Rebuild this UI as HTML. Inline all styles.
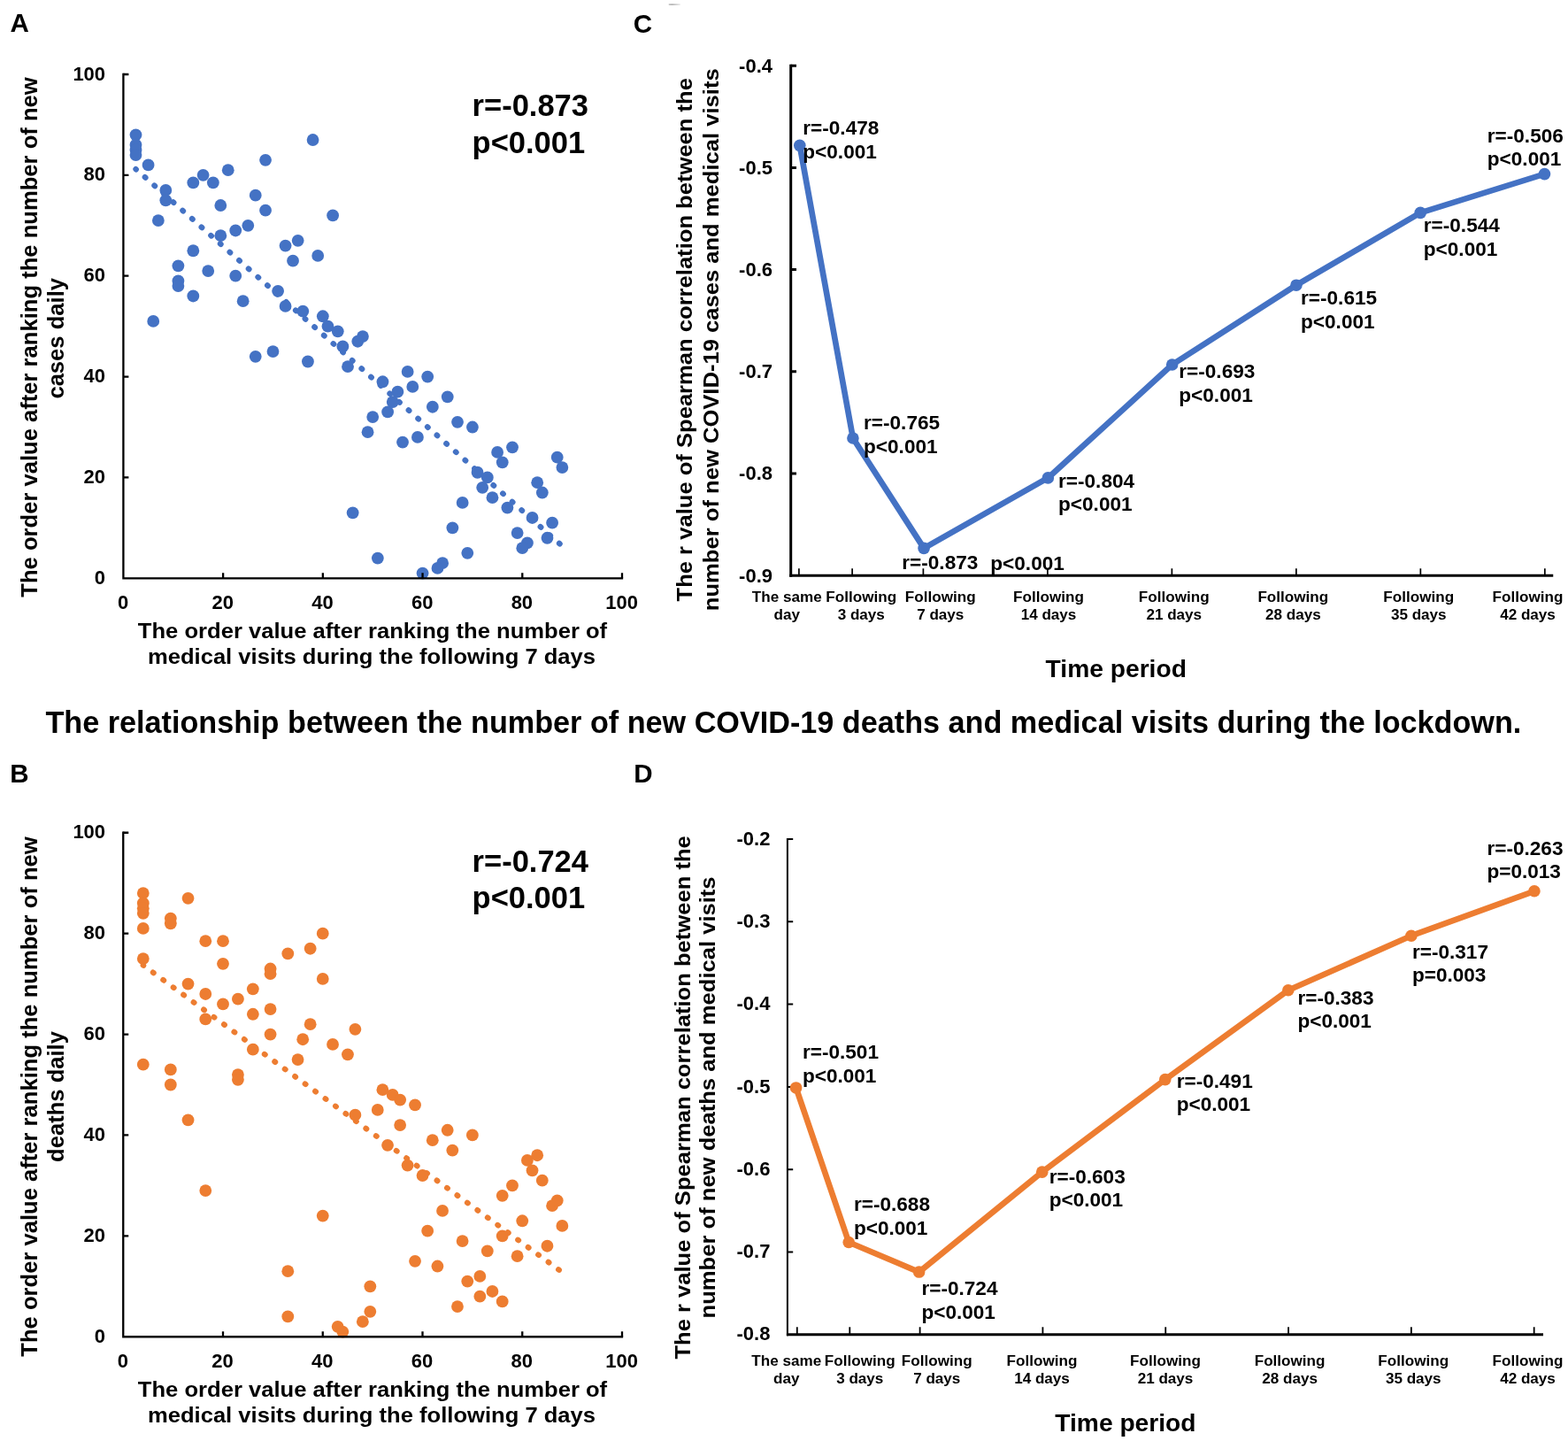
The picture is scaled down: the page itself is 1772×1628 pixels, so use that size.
<!DOCTYPE html>
<html lang="en"><head><meta charset="utf-8"><title>Relationship between new COVID-19 cases/deaths and medical visits during the lockdown</title>
<style>html,body{margin:0;padding:0;background:#fff}body{width:1772px;height:1628px;overflow:hidden}svg{display:block}svg text{font-family:'Liberation Sans', Arial, Helvetica, sans-serif;font-weight:bold;fill:#000}</style>
</head><body>
<svg width="1772" height="1628" viewBox="0 0 1772 1628">
<defs><filter id="soft" x="0" y="0" width="1772" height="1628" filterUnits="userSpaceOnUse" color-interpolation-filters="sRGB"><feGaussianBlur stdDeviation="0.5"/></filter></defs>
<g filter="url(#soft)">
<rect width="1772" height="1628" fill="#fff"/>
<defs><linearGradient id="speck" x1="0" y1="0" x2="1" y2="0"><stop offset="0" stop-color="#c4c4c4"/><stop offset="0.3" stop-color="#b4b4b4"/><stop offset="1" stop-color="#ececec"/></linearGradient></defs>
<rect x="755.5" y="4.2" width="13.5" height="1.7" rx="0.8" fill="url(#speck)"/>
<text x="11.5" y="36.25" font-size="29.5">A</text>
<text x="11.2" y="884.25" font-size="29.5">B</text>
<text x="715.7" y="36.5" font-size="29.5">C</text>
<text x="716.3" y="883.8" font-size="29.5">D</text>
<g id="panelA">
<line x1="153.49" y1="191.03" x2="635.37" y2="616.86" stroke="#4472C4" stroke-width="6.3" stroke-linecap="round" stroke-dasharray="0.8 13.4" stroke-dashoffset="0.4"/>
<g fill="#4472C4">
<circle cx="153.49" cy="152.32" r="6.9"/>
<circle cx="153.49" cy="163.7" r="6.9"/>
<circle cx="153.49" cy="169.39" r="6.9"/>
<circle cx="153.49" cy="175.09" r="6.9"/>
<circle cx="167.58" cy="186.47" r="6.9"/>
<circle cx="187.31" cy="214.94" r="6.9"/>
<circle cx="187.31" cy="226.32" r="6.9"/>
<circle cx="178.85" cy="249.1" r="6.9"/>
<circle cx="218.3" cy="206.4" r="6.9"/>
<circle cx="229.58" cy="197.86" r="6.9"/>
<circle cx="240.85" cy="206.4" r="6.9"/>
<circle cx="257.76" cy="192.17" r="6.9"/>
<circle cx="300.03" cy="180.78" r="6.9"/>
<circle cx="353.57" cy="158.01" r="6.9"/>
<circle cx="288.75" cy="220.63" r="6.9"/>
<circle cx="249.3" cy="232.02" r="6.9"/>
<circle cx="300.03" cy="237.71" r="6.9"/>
<circle cx="376.11" cy="243.4" r="6.9"/>
<circle cx="280.3" cy="254.79" r="6.9"/>
<circle cx="266.21" cy="260.48" r="6.9"/>
<circle cx="249.3" cy="266.18" r="6.9"/>
<circle cx="218.3" cy="283.25" r="6.9"/>
<circle cx="336.66" cy="271.87" r="6.9"/>
<circle cx="322.57" cy="277.56" r="6.9"/>
<circle cx="359.2" cy="288.95" r="6.9"/>
<circle cx="331.02" cy="294.64" r="6.9"/>
<circle cx="201.4" cy="300.33" r="6.9"/>
<circle cx="235.21" cy="306.03" r="6.9"/>
<circle cx="266.21" cy="311.72" r="6.9"/>
<circle cx="201.4" cy="317.41" r="6.9"/>
<circle cx="201.4" cy="323.11" r="6.9"/>
<circle cx="218.3" cy="334.49" r="6.9"/>
<circle cx="274.66" cy="340.19" r="6.9"/>
<circle cx="314.12" cy="328.8" r="6.9"/>
<circle cx="322.57" cy="345.88" r="6.9"/>
<circle cx="342.3" cy="351.57" r="6.9"/>
<circle cx="173.22" cy="362.96" r="6.9"/>
<circle cx="364.84" cy="357.26" r="6.9"/>
<circle cx="370.48" cy="368.65" r="6.9"/>
<circle cx="381.75" cy="374.34" r="6.9"/>
<circle cx="409.93" cy="380.04" r="6.9"/>
<circle cx="404.29" cy="385.73" r="6.9"/>
<circle cx="387.38" cy="391.42" r="6.9"/>
<circle cx="308.48" cy="397.11" r="6.9"/>
<circle cx="288.75" cy="402.81" r="6.9"/>
<circle cx="347.93" cy="408.5" r="6.9"/>
<circle cx="393.02" cy="414.19" r="6.9"/>
<circle cx="460.65" cy="419.89" r="6.9"/>
<circle cx="483.2" cy="425.58" r="6.9"/>
<circle cx="432.47" cy="431.27" r="6.9"/>
<circle cx="466.29" cy="436.97" r="6.9"/>
<circle cx="449.38" cy="442.66" r="6.9"/>
<circle cx="505.74" cy="448.35" r="6.9"/>
<circle cx="443.74" cy="454.04" r="6.9"/>
<circle cx="488.83" cy="459.74" r="6.9"/>
<circle cx="438.11" cy="465.43" r="6.9"/>
<circle cx="421.2" cy="471.12" r="6.9"/>
<circle cx="517.01" cy="476.82" r="6.9"/>
<circle cx="533.92" cy="482.51" r="6.9"/>
<circle cx="415.56" cy="488.2" r="6.9"/>
<circle cx="471.92" cy="493.9" r="6.9"/>
<circle cx="455.02" cy="499.59" r="6.9"/>
<circle cx="579.01" cy="505.28" r="6.9"/>
<circle cx="562.1" cy="510.97" r="6.9"/>
<circle cx="629.73" cy="516.67" r="6.9"/>
<circle cx="567.74" cy="522.36" r="6.9"/>
<circle cx="635.37" cy="528.05" r="6.9"/>
<circle cx="539.56" cy="533.75" r="6.9"/>
<circle cx="550.83" cy="539.44" r="6.9"/>
<circle cx="607.19" cy="545.13" r="6.9"/>
<circle cx="545.19" cy="550.83" r="6.9"/>
<circle cx="612.82" cy="556.52" r="6.9"/>
<circle cx="556.46" cy="562.21" r="6.9"/>
<circle cx="522.65" cy="567.9" r="6.9"/>
<circle cx="573.37" cy="573.6" r="6.9"/>
<circle cx="398.66" cy="579.29" r="6.9"/>
<circle cx="601.55" cy="584.98" r="6.9"/>
<circle cx="624.1" cy="590.68" r="6.9"/>
<circle cx="511.38" cy="596.37" r="6.9"/>
<circle cx="584.64" cy="602.06" r="6.9"/>
<circle cx="618.46" cy="607.76" r="6.9"/>
<circle cx="595.92" cy="613.45" r="6.9"/>
<circle cx="590.28" cy="619.14" r="6.9"/>
<circle cx="528.28" cy="624.83" r="6.9"/>
<circle cx="426.84" cy="630.53" r="6.9"/>
<circle cx="500.1" cy="636.22" r="6.9"/>
<circle cx="494.47" cy="641.91" r="6.9"/>
<circle cx="477.56" cy="647.61" r="6.9"/>
</g>
<path d="M139.4 82.85V653.3H704.15" fill="none" stroke="#000" stroke-width="2.3"/>
<path d="M139.4 539.44h6M252.12 653.3v-6M139.4 425.58h6M364.84 653.3v-6M139.4 311.72h6M477.56 653.3v-6M139.4 197.86h6M590.28 653.3v-6M139.4 84h6M703 653.3v-6" fill="none" stroke="#000" stroke-width="2.3"/>
<text x="119.1" y="659.9" font-size="22" text-anchor="end">0</text>
<text x="139" y="687.5" font-size="22" text-anchor="middle">0</text>
<text x="119.1" y="546.04" font-size="22" text-anchor="end">20</text>
<text x="251.72" y="687.5" font-size="22" text-anchor="middle">20</text>
<text x="119.1" y="432.18" font-size="22" text-anchor="end">40</text>
<text x="364.44" y="687.5" font-size="22" text-anchor="middle">40</text>
<text x="119.1" y="318.32" font-size="22" text-anchor="end">60</text>
<text x="477.16" y="687.5" font-size="22" text-anchor="middle">60</text>
<text x="119.1" y="204.46" font-size="22" text-anchor="end">80</text>
<text x="589.88" y="687.5" font-size="22" text-anchor="middle">80</text>
<text x="119.1" y="90.6" font-size="22" text-anchor="end">100</text>
<text x="702.6" y="687.5" font-size="22" text-anchor="middle">100</text>
<text transform="translate(41.6 381) rotate(-90)" font-size="25.6" text-anchor="middle">The order value after ranking the number of new</text>
<text transform="translate(71.9 382.3) rotate(-90)" font-size="25.6" text-anchor="middle">cases daily</text>
<text transform="translate(421 721.25) scale(1 0.95)" font-size="25.6" text-anchor="middle">The order value after ranking the number of</text>
<text transform="translate(420 750) scale(1 0.95)" font-size="25.6" text-anchor="middle">medical visits during the following 7 days</text>
<text x="533.6" y="131" font-size="34.5">r=-0.873</text>
<text x="533.6" y="172.6" font-size="34.5">p&lt;0.001</text>
</g>
<g id="panelB">
<line x1="161.8" y1="1090.53" x2="635.35" y2="1437.35" stroke="#ED7D31" stroke-width="6.3" stroke-linecap="round" stroke-dasharray="0.8 13.4" stroke-dashoffset="0.4"/>
<g fill="#ED7D31">
<circle cx="161.8" cy="1009.09" r="6.9"/>
<circle cx="161.8" cy="1020.48" r="6.9"/>
<circle cx="161.8" cy="1026.17" r="6.9"/>
<circle cx="161.8" cy="1031.87" r="6.9"/>
<circle cx="161.8" cy="1048.95" r="6.9"/>
<circle cx="161.8" cy="1083.12" r="6.9"/>
<circle cx="161.8" cy="1202.72" r="6.9"/>
<circle cx="192.81" cy="1037.57" r="6.9"/>
<circle cx="192.81" cy="1043.26" r="6.9"/>
<circle cx="192.81" cy="1208.41" r="6.9"/>
<circle cx="192.81" cy="1225.5" r="6.9"/>
<circle cx="212.54" cy="1014.78" r="6.9"/>
<circle cx="212.54" cy="1111.6" r="6.9"/>
<circle cx="212.54" cy="1265.37" r="6.9"/>
<circle cx="232.27" cy="1063.19" r="6.9"/>
<circle cx="232.27" cy="1122.99" r="6.9"/>
<circle cx="232.27" cy="1151.46" r="6.9"/>
<circle cx="232.27" cy="1345.1" r="6.9"/>
<circle cx="252" cy="1063.19" r="6.9"/>
<circle cx="252" cy="1088.82" r="6.9"/>
<circle cx="252" cy="1134.38" r="6.9"/>
<circle cx="268.91" cy="1128.68" r="6.9"/>
<circle cx="268.91" cy="1214.11" r="6.9"/>
<circle cx="268.91" cy="1219.81" r="6.9"/>
<circle cx="285.83" cy="1117.3" r="6.9"/>
<circle cx="285.83" cy="1145.77" r="6.9"/>
<circle cx="285.83" cy="1185.63" r="6.9"/>
<circle cx="305.56" cy="1094.51" r="6.9"/>
<circle cx="305.56" cy="1100.21" r="6.9"/>
<circle cx="305.56" cy="1140.08" r="6.9"/>
<circle cx="305.56" cy="1168.55" r="6.9"/>
<circle cx="325.29" cy="1077.43" r="6.9"/>
<circle cx="325.29" cy="1436.21" r="6.9"/>
<circle cx="325.29" cy="1487.47" r="6.9"/>
<circle cx="336.56" cy="1197.03" r="6.9"/>
<circle cx="342.2" cy="1174.24" r="6.9"/>
<circle cx="350.66" cy="1071.73" r="6.9"/>
<circle cx="350.66" cy="1157.16" r="6.9"/>
<circle cx="364.75" cy="1054.65" r="6.9"/>
<circle cx="364.75" cy="1105.9" r="6.9"/>
<circle cx="364.75" cy="1373.57" r="6.9"/>
<circle cx="376.02" cy="1179.94" r="6.9"/>
<circle cx="381.66" cy="1498.86" r="6.9"/>
<circle cx="387.3" cy="1504.56" r="6.9"/>
<circle cx="392.94" cy="1191.33" r="6.9"/>
<circle cx="401.39" cy="1162.86" r="6.9"/>
<circle cx="401.39" cy="1259.67" r="6.9"/>
<circle cx="409.85" cy="1493.16" r="6.9"/>
<circle cx="418.31" cy="1453.3" r="6.9"/>
<circle cx="418.31" cy="1481.78" r="6.9"/>
<circle cx="426.76" cy="1253.97" r="6.9"/>
<circle cx="432.4" cy="1231.19" r="6.9"/>
<circle cx="438.04" cy="1293.84" r="6.9"/>
<circle cx="443.68" cy="1236.89" r="6.9"/>
<circle cx="452.13" cy="1242.59" r="6.9"/>
<circle cx="452.13" cy="1271.06" r="6.9"/>
<circle cx="460.59" cy="1316.62" r="6.9"/>
<circle cx="469.04" cy="1248.28" r="6.9"/>
<circle cx="469.04" cy="1424.83" r="6.9"/>
<circle cx="477.5" cy="1328.01" r="6.9"/>
<circle cx="483.14" cy="1390.65" r="6.9"/>
<circle cx="488.78" cy="1288.14" r="6.9"/>
<circle cx="494.41" cy="1430.52" r="6.9"/>
<circle cx="500.05" cy="1367.88" r="6.9"/>
<circle cx="505.69" cy="1276.76" r="6.9"/>
<circle cx="511.32" cy="1299.54" r="6.9"/>
<circle cx="516.96" cy="1476.08" r="6.9"/>
<circle cx="522.6" cy="1402.05" r="6.9"/>
<circle cx="528.24" cy="1447.61" r="6.9"/>
<circle cx="533.88" cy="1282.45" r="6.9"/>
<circle cx="542.33" cy="1441.91" r="6.9"/>
<circle cx="542.33" cy="1464.69" r="6.9"/>
<circle cx="550.79" cy="1413.43" r="6.9"/>
<circle cx="556.42" cy="1458.99" r="6.9"/>
<circle cx="567.7" cy="1350.79" r="6.9"/>
<circle cx="567.7" cy="1396.35" r="6.9"/>
<circle cx="567.7" cy="1470.38" r="6.9"/>
<circle cx="578.98" cy="1339.4" r="6.9"/>
<circle cx="584.61" cy="1419.13" r="6.9"/>
<circle cx="590.25" cy="1379.26" r="6.9"/>
<circle cx="595.89" cy="1310.92" r="6.9"/>
<circle cx="601.53" cy="1322.32" r="6.9"/>
<circle cx="607.16" cy="1305.23" r="6.9"/>
<circle cx="612.8" cy="1333.7" r="6.9"/>
<circle cx="618.44" cy="1407.74" r="6.9"/>
<circle cx="624.08" cy="1362.18" r="6.9"/>
<circle cx="629.71" cy="1356.48" r="6.9"/>
<circle cx="635.35" cy="1384.96" r="6.9"/>
</g>
<path d="M139.25 939.6V1510.25H704.15" fill="none" stroke="#000" stroke-width="2.3"/>
<path d="M139.25 1396.35h6M252 1510.25v-6M139.25 1282.45h6M364.75 1510.25v-6M139.25 1168.55h6M477.5 1510.25v-6M139.25 1054.65h6M590.25 1510.25v-6M139.25 940.75h6M703 1510.25v-6" fill="none" stroke="#000" stroke-width="2.3"/>
<text x="119.1" y="1516.85" font-size="22" text-anchor="end">0</text>
<text x="138.85" y="1544.75" font-size="22" text-anchor="middle">0</text>
<text x="119.1" y="1402.95" font-size="22" text-anchor="end">20</text>
<text x="251.6" y="1544.75" font-size="22" text-anchor="middle">20</text>
<text x="119.1" y="1289.05" font-size="22" text-anchor="end">40</text>
<text x="364.35" y="1544.75" font-size="22" text-anchor="middle">40</text>
<text x="119.1" y="1175.15" font-size="22" text-anchor="end">60</text>
<text x="477.1" y="1544.75" font-size="22" text-anchor="middle">60</text>
<text x="119.1" y="1061.25" font-size="22" text-anchor="end">80</text>
<text x="589.85" y="1544.75" font-size="22" text-anchor="middle">80</text>
<text x="119.1" y="947.35" font-size="22" text-anchor="end">100</text>
<text x="702.6" y="1544.75" font-size="22" text-anchor="middle">100</text>
<text transform="translate(41.6 1239) rotate(-90)" font-size="25.6" text-anchor="middle">The order value after ranking the number of new</text>
<text transform="translate(71.9 1239) rotate(-90)" font-size="25.6" text-anchor="middle">deaths daily</text>
<text transform="translate(421 1577.75) scale(1 0.95)" font-size="25.6" text-anchor="middle">The order value after ranking the number of</text>
<text transform="translate(420 1607.25) scale(1 0.95)" font-size="25.6" text-anchor="middle">medical visits during the following 7 days</text>
<text x="533.6" y="985.2" font-size="34.5">r=-0.724</text>
<text x="533.6" y="1025.8" font-size="34.5">p&lt;0.001</text>
</g>
<g id="panelC">
<path d="M893.7 72.7V651.7" fill="none" stroke="#000" stroke-width="3.0"/>
<path d="M892.2 650.2H1755.25" fill="none" stroke="#000" stroke-width="3.0"/>
<path d="M893.7 74.2h6.3M893.7 189.4h6.3M893.7 304.6h6.3M893.7 419.8h6.3M893.7 535h6.3" fill="none" stroke="#000" stroke-width="3.0"/>
<path d="M902.9 650.2v-8M963.11 650.2v-8M1043.39 650.2v-8M1183.88 650.2v-8M1324.37 650.2v-8M1464.86 650.2v-8M1605.35 650.2v-8M1745.84 650.2v-8" fill="none" stroke="#000" stroke-width="1.7"/>
<polyline points="903.8,164.36 963.92,494.98 1044.08,619.4 1184.36,539.91 1324.64,412.04 1464.92,322.18 1605.2,240.39 1745.48,196.61" fill="none" stroke="#4472C4" stroke-width="6.7" stroke-linejoin="round" stroke-linecap="round"/>
<g fill="#4472C4">
<circle cx="903.8" cy="164.36" r="6.8"/>
<circle cx="963.92" cy="494.98" r="6.8"/>
<circle cx="1044.08" cy="619.4" r="6.8"/>
<circle cx="1184.36" cy="539.91" r="6.8"/>
<circle cx="1324.64" cy="412.04" r="6.8"/>
<circle cx="1464.92" cy="322.18" r="6.8"/>
<circle cx="1605.2" cy="240.39" r="6.8"/>
<circle cx="1745.48" cy="196.61" r="6.8"/>
</g>
<text x="873" y="81.5" font-size="22" text-anchor="end">-0.4</text>
<text x="873" y="196.7" font-size="22" text-anchor="end">-0.5</text>
<text x="873" y="311.9" font-size="22" text-anchor="end">-0.6</text>
<text x="873" y="427.1" font-size="22" text-anchor="end">-0.7</text>
<text x="873" y="542.3" font-size="22" text-anchor="end">-0.8</text>
<text x="873" y="657.5" font-size="22" text-anchor="end">-0.9</text>
<text x="889.25" y="679.75" font-size="17.1" text-anchor="middle">The same</text>
<text x="889.25" y="700" font-size="17.1" text-anchor="middle">day</text>
<text x="973.25" y="679.75" font-size="17.1" text-anchor="middle">Following</text>
<text x="973.25" y="700" font-size="17.1" text-anchor="middle">3 days</text>
<text x="1062.75" y="679.75" font-size="17.1" text-anchor="middle">Following</text>
<text x="1062.75" y="700" font-size="17.1" text-anchor="middle">7 days</text>
<text x="1185" y="679.75" font-size="17.1" text-anchor="middle">Following</text>
<text x="1185" y="700" font-size="17.1" text-anchor="middle">14 days</text>
<text x="1326.75" y="679.75" font-size="17.1" text-anchor="middle">Following</text>
<text x="1326.75" y="700" font-size="17.1" text-anchor="middle">21 days</text>
<text x="1461.3" y="679.75" font-size="17.1" text-anchor="middle">Following</text>
<text x="1461.3" y="700" font-size="17.1" text-anchor="middle">28 days</text>
<text x="1603.25" y="679.75" font-size="17.1" text-anchor="middle">Following</text>
<text x="1603.25" y="700" font-size="17.1" text-anchor="middle">35 days</text>
<text x="1726.5" y="679.75" font-size="17.1" text-anchor="middle">Following</text>
<text x="1726.5" y="700" font-size="17.1" text-anchor="middle">42 days</text>
<text transform="translate(781.75 383.75) rotate(-90) scale(1 0.94)" font-size="25.6" text-anchor="middle">The r value of Spearman correlation between the</text>
<text transform="translate(812 383.75) rotate(-90) scale(1 0.94)" font-size="25.6" text-anchor="middle">number of new COVID-19 cases and medical visits</text>
<text transform="translate(1261.25 765) scale(1 0.955)" font-size="28.2" text-anchor="middle">Time period</text>
<text x="907.3" y="151.75" font-size="22.6">r=-0.478</text>
<text x="907.3" y="178.5" font-size="22.6">p&lt;0.001</text>
<text x="976.05" y="484.5" font-size="22.6">r=-0.765</text>
<text x="976.05" y="511.75" font-size="22.6">p&lt;0.001</text>
<text x="1019.3" y="643" font-size="22.6">r=-0.873</text>
<text x="1119.3" y="643.5" font-size="22.6">p&lt;0.001</text>
<text x="1196.05" y="550.75" font-size="22.6">r=-0.804</text>
<text x="1196.05" y="576.75" font-size="22.6">p&lt;0.001</text>
<text x="1332.3" y="426.75" font-size="22.6">r=-0.693</text>
<text x="1332.3" y="453.5" font-size="22.6">p&lt;0.001</text>
<text x="1470.05" y="343.75" font-size="22.6">r=-0.615</text>
<text x="1470.05" y="370.5" font-size="22.6">p&lt;0.001</text>
<text x="1608.8" y="262" font-size="22.6">r=-0.544</text>
<text x="1608.8" y="288.75" font-size="22.6">p&lt;0.001</text>
<text x="1680.8" y="160.5" font-size="22.6">r=-0.506</text>
<text x="1680.8" y="187.25" font-size="22.6">p&lt;0.001</text>
</g>
<g id="panelD">
<path d="M889.9 947V1509.3" fill="none" stroke="#000" stroke-width="2.0"/>
<path d="M888.9 1507.8H1744" fill="none" stroke="#000" stroke-width="3.0"/>
<path d="M889.9 948h6.3M889.9 1041.3h6.3M889.9 1134.6h6.3M889.9 1227.9h6.3M889.9 1321.2h6.3M889.9 1414.5h6.3" fill="none" stroke="#000" stroke-width="2.0"/>
<path d="M900.8 1507.8v-8.5M960.29 1507.8v-8.5M1039.61 1507.8v-8.5M1178.42 1507.8v-8.5M1317.23 1507.8v-8.5M1456.04 1507.8v-8.5M1594.85 1507.8v-8.5M1733.66 1507.8v-8.5" fill="none" stroke="#000" stroke-width="1.8"/>
<polyline points="899.6,1228.93 959.2,1403.47 1038.65,1437.07 1177.71,1324.13 1316.76,1219.6 1455.82,1118.8 1594.88,1057.2 1733.93,1006.8" fill="none" stroke="#ED7D31" stroke-width="6.7" stroke-linejoin="round" stroke-linecap="round"/>
<g fill="#ED7D31">
<circle cx="899.6" cy="1228.93" r="6.8"/>
<circle cx="959.2" cy="1403.47" r="6.8"/>
<circle cx="1038.65" cy="1437.07" r="6.8"/>
<circle cx="1177.71" cy="1324.13" r="6.8"/>
<circle cx="1316.76" cy="1219.6" r="6.8"/>
<circle cx="1455.82" cy="1118.8" r="6.8"/>
<circle cx="1594.88" cy="1057.2" r="6.8"/>
<circle cx="1733.93" cy="1006.8" r="6.8"/>
</g>
<text x="870.4" y="954.6" font-size="22" text-anchor="end">-0.2</text>
<text x="870.4" y="1047.9" font-size="22" text-anchor="end">-0.3</text>
<text x="870.4" y="1141.2" font-size="22" text-anchor="end">-0.4</text>
<text x="870.4" y="1234.5" font-size="22" text-anchor="end">-0.5</text>
<text x="870.4" y="1327.8" font-size="22" text-anchor="end">-0.6</text>
<text x="870.4" y="1421.1" font-size="22" text-anchor="end">-0.7</text>
<text x="870.4" y="1514.4" font-size="22" text-anchor="end">-0.8</text>
<text x="888.75" y="1542.75" font-size="17.1" text-anchor="middle">The same</text>
<text x="888.75" y="1562.75" font-size="17.1" text-anchor="middle">day</text>
<text x="971.75" y="1542.75" font-size="17.1" text-anchor="middle">Following</text>
<text x="971.75" y="1562.75" font-size="17.1" text-anchor="middle">3 days</text>
<text x="1058.75" y="1542.75" font-size="17.1" text-anchor="middle">Following</text>
<text x="1058.75" y="1562.75" font-size="17.1" text-anchor="middle">7 days</text>
<text x="1177.5" y="1542.75" font-size="17.1" text-anchor="middle">Following</text>
<text x="1177.5" y="1562.75" font-size="17.1" text-anchor="middle">14 days</text>
<text x="1317" y="1542.75" font-size="17.1" text-anchor="middle">Following</text>
<text x="1317" y="1562.75" font-size="17.1" text-anchor="middle">21 days</text>
<text x="1457.6" y="1542.75" font-size="17.1" text-anchor="middle">Following</text>
<text x="1457.6" y="1562.75" font-size="17.1" text-anchor="middle">28 days</text>
<text x="1597.25" y="1542.75" font-size="17.1" text-anchor="middle">Following</text>
<text x="1597.25" y="1562.75" font-size="17.1" text-anchor="middle">35 days</text>
<text x="1726.5" y="1542.75" font-size="17.1" text-anchor="middle">Following</text>
<text x="1726.5" y="1562.75" font-size="17.1" text-anchor="middle">42 days</text>
<text transform="translate(779.5 1239.9) rotate(-90) scale(1 0.97)" font-size="25.6" text-anchor="middle">The r value of Spearman correlation between the</text>
<text transform="translate(808.4 1239.9) rotate(-90) scale(1 0.97)" font-size="25.6" text-anchor="middle">number of new deaths and medical visits</text>
<text transform="translate(1271.9 1616.5) scale(1 0.955)" font-size="28.2" text-anchor="middle">Time period</text>
<text x="906.9" y="1196.25" font-size="22.6">r=-0.501</text>
<text x="906.9" y="1223" font-size="22.6">p&lt;0.001</text>
<text x="964.9" y="1368" font-size="22.6">r=-0.688</text>
<text x="964.9" y="1394.5" font-size="22.6">p&lt;0.001</text>
<text x="1041.4" y="1463" font-size="22.6">r=-0.724</text>
<text x="1041.4" y="1489.75" font-size="22.6">p&lt;0.001</text>
<text x="1185.65" y="1336.5" font-size="22.6">r=-0.603</text>
<text x="1185.65" y="1362.75" font-size="22.6">p&lt;0.001</text>
<text x="1329.65" y="1228.75" font-size="22.6">r=-0.491</text>
<text x="1329.65" y="1255" font-size="22.6">p&lt;0.001</text>
<text x="1466.4" y="1134.5" font-size="22.6">r=-0.383</text>
<text x="1466.4" y="1161" font-size="22.6">p&lt;0.001</text>
<text x="1595.9" y="1083.25" font-size="22.6">r=-0.317</text>
<text x="1595.9" y="1109.25" font-size="22.6">p=0.003</text>
<text x="1680.4" y="965.75" font-size="22.6">r=-0.263</text>
<text x="1680.4" y="992" font-size="22.6">p=0.013</text>
</g>
<text x="885.4" y="827.6" font-size="34.2" text-anchor="middle">The relationship between the number of new COVID-19 deaths and medical visits during the lockdown.</text>
</g>
</svg></body></html>
